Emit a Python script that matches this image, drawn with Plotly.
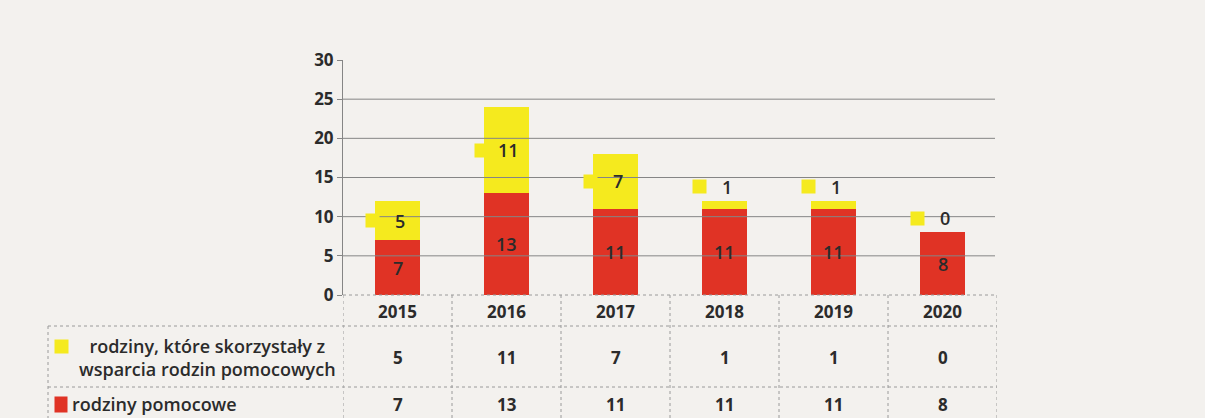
import plotly.graph_objects as go

years = ["2015", "2016", "2017", "2018", "2019", "2020"]
supported = [5, 11, 7, 1, 1, 0]      # rodziny, które skorzystały z wsparcia rodzin pomocowych
helpers = [7, 13, 11, 11, 11, 8]     # rodziny pomocowe
label_supported = "rodziny, które skorzystały z<br>wsparcia rodzin pomocowych"
label_helpers = "rodziny pomocowe"
y_ticks = [0, 5, 10, 15, 20, 25, 30]
grid_vals = [5, 10, 15, 20, 25]

W, H = 1205, 418
RED = "#e03325"
YEL = "#f5ea1e"
BG = "#f3f1ee"
TXT = "#2b2b2b"
FONT = "Open Sans"
GRAY = "#858585"


def px(x):
    return x / W


def py(y):
    return 1 - y / H


num_font = dict(family=FONT, size=17, color=TXT, weight="bold")
bar_font = dict(family=FONT, size=18, color=TXT, weight=600)
mid = dict(xanchor="center", yanchor="middle", showarrow=False)

fig = go.Figure()
fig.add_trace(go.Bar(x=years, y=helpers, name=label_helpers, marker_color=RED,
                     width=0.42, marker_line_width=0))
fig.add_trace(go.Bar(x=years, y=supported, name=label_supported, marker_color=YEL,
                     width=0.42, marker_line_width=0))

shapes = []
annotations = []

# gridlines
for g in grid_vals:
    shapes.append(dict(type="line", xref="paper", yref="y", x0=px(343), x1=px(995),
                       y0=g, y1=g, line=dict(color=GRAY, width=1)))

# data labels
for i, yr in enumerate(years):
    annotations.append(dict(x=i, y=helpers[i] / 2, xref="x", yref="y", text=str(helpers[i]),
                            font=bar_font, **mid))
    if supported[i] >= 3:
        ly = helpers[i] + supported[i] / 2
    else:
        ly = helpers[i] + supported[i] + 1.8
    annotations.append(dict(x=i, y=ly, xref="x", yref="y", text=str(supported[i]),
                            xshift=2, font=bar_font, **mid))
    annotations.append(dict(x=i, y=ly, xref="x", yref="y", text=" ",
                            xshift=-25, width=13, height=13, bgcolor=YEL, borderpad=0,
                            font=dict(size=6), **mid))

# table lines
line_style = dict(color="#9a9a9a", width=1, dash="dot")
for k in range(len(years) + 1):
    shapes.append(dict(type="line", xref="x", yref="paper", x0=k - 0.5, x1=k - 0.5,
                       y0=py(295), y1=py(420), line=line_style))
shapes.append(dict(type="line", xref="paper", yref="paper", x0=px(343), x1=px(997),
                   y0=py(295), y1=py(295), line=line_style))
for yy in (326, 387):
    shapes.append(dict(type="line", xref="paper", yref="paper", x0=px(48), x1=px(997),
                       y0=py(yy), y1=py(yy), line=line_style))
shapes.append(dict(type="line", xref="paper", yref="paper", x0=px(48), x1=px(48),
                   y0=py(326), y1=py(420), line=line_style))

# table text
for i, yr in enumerate(years):
    annotations.append(dict(x=i, y=py(311), xref="x", yref="paper", text=yr,
                            font=num_font, **mid))
    annotations.append(dict(x=i, y=py(357), xref="x", yref="paper", text=str(supported[i]),
                            font=num_font, **mid))
    annotations.append(dict(x=i, y=py(404), xref="x", yref="paper", text=str(helpers[i]),
                            font=num_font, **mid))

lab_font = dict(family=FONT, size=18, color=TXT, weight=600)
annotations.append(dict(x=px(207), y=py(357), xref="paper", yref="paper", text=label_supported,
                        align="center", font=lab_font, **mid))
annotations.append(dict(x=px(61), y=py(346), xref="paper", yref="paper", text=" ",
                        width=13, height=13, bgcolor=YEL, borderpad=0, font=dict(size=6), **mid))
annotations.append(dict(x=px(70), y=py(404), xref="paper", yref="paper", text=label_helpers,
                        xanchor="left", yanchor="middle", showarrow=False, font=lab_font))
annotations.append(dict(x=px(61), y=py(404), xref="paper", yref="paper", text=" ",
                        width=12, height=15, bgcolor=RED, borderpad=0, font=dict(size=6), **mid))

fig.update_layout(
    width=W, height=H,
    margin=dict(l=0, r=0, t=0, b=0, autoexpand=False),
    paper_bgcolor=BG, plot_bgcolor=BG,
    barmode="stack",
    showlegend=False,
    shapes=shapes,
    annotations=annotations,
    xaxis=dict(type="category", domain=[px(343), px(997)], range=[-0.5, 5.5], automargin=False,
               showticklabels=False, showgrid=False, zeroline=False, showline=False, ticks=""),
    yaxis=dict(domain=[py(295), py(60)], range=[0, 30], tickvals=y_ticks, automargin=False,
               showgrid=False, zeroline=False, showline=True, linecolor=GRAY, linewidth=1,
               ticks="outside", ticklen=5, tickcolor=GRAY, tickfont=num_font),
)

fig.write_html(
    "out.html",
    config={"displayModeBar": False},
    post_script="document.body.style.margin='0';document.documentElement.style.overflow='hidden';",
)
